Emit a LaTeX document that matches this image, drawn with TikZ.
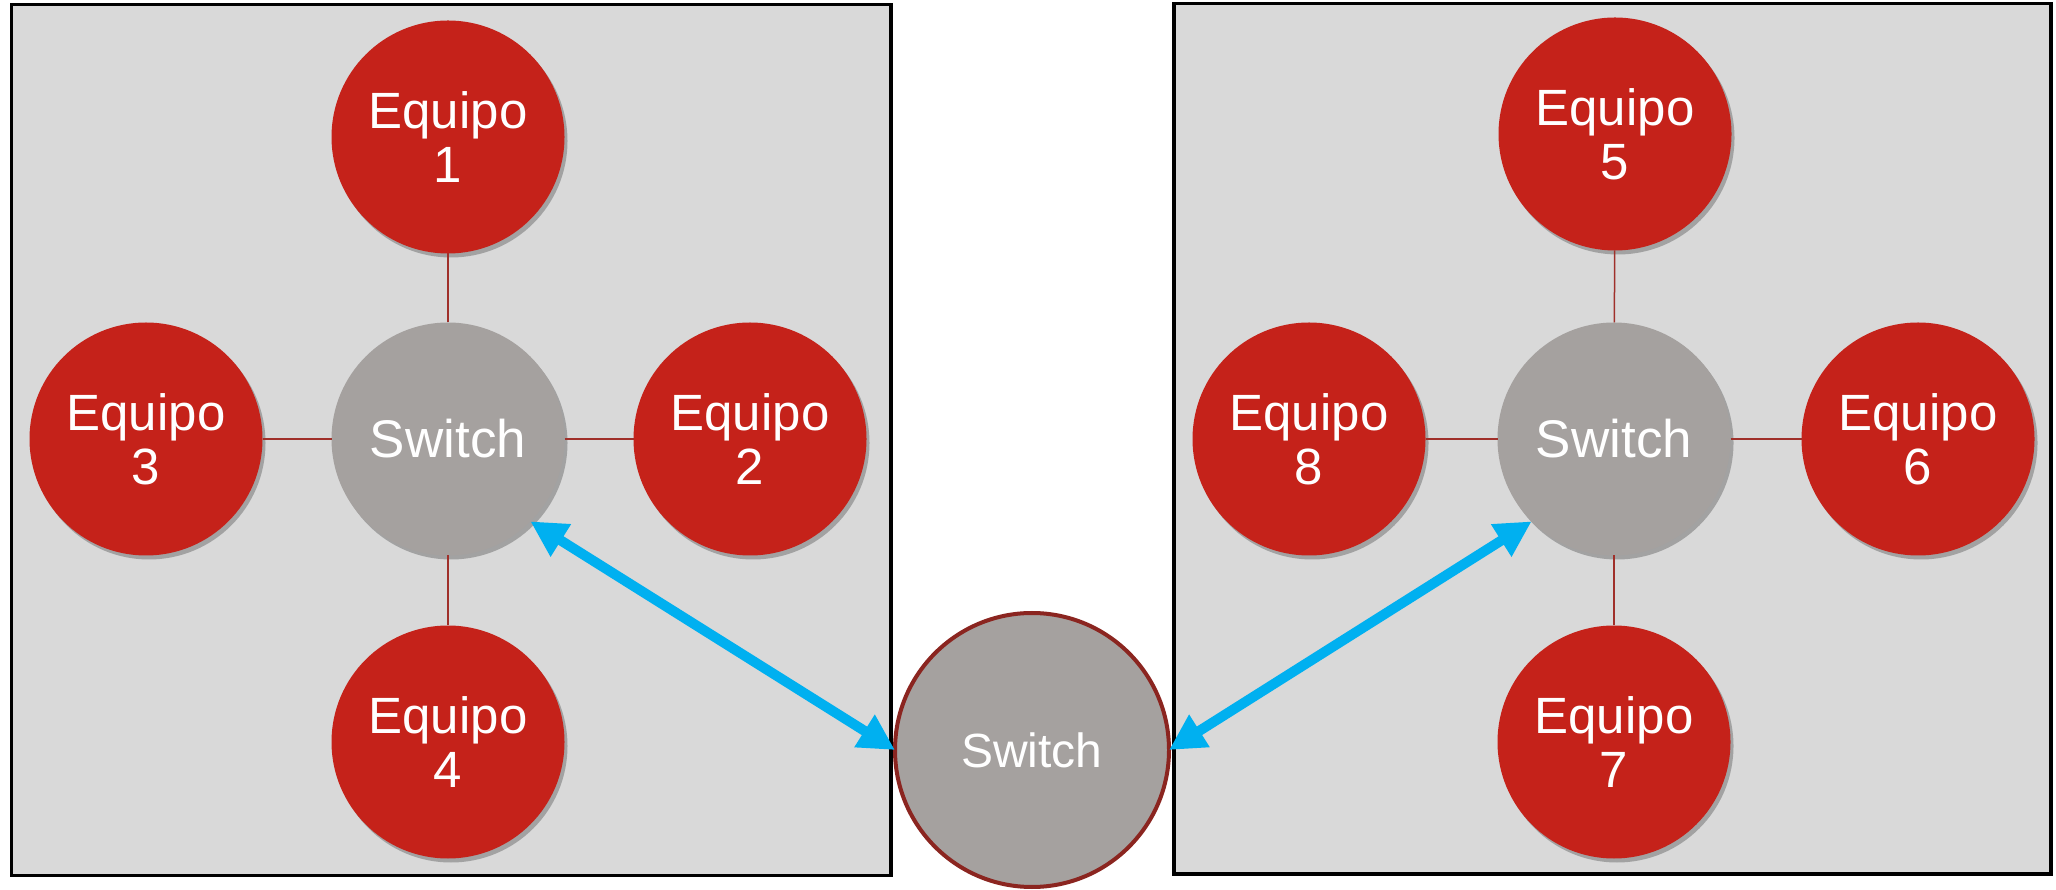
\documentclass[tikz,border=0pt]{standalone}
\usepackage{fontspec}
\setmainfont{Liberation Sans}
\usetikzlibrary{arrows.meta,shadows}
\definecolor{boxgray}{HTML}{D9D9D9}
\definecolor{eqred}{HTML}{C5221A}
\definecolor{swgray}{HTML}{A5A19F}
\definecolor{linkred}{HTML}{A0302A}
\definecolor{midborder}{HTML}{8B2520}
\definecolor{arrowblue}{HTML}{00B0F0}
\begin{document}
\begin{tikzpicture}[x=1pt,y=1pt,
 panel/.style={draw=black, line width=3.5pt, fill=boxgray},
 roundnode/.style={circle, minimum size=233pt, inner sep=0pt, outer sep=0pt, text=white, align=center},
 softshadow/.style={drop shadow={shadow xshift=3pt, shadow yshift=-4pt, opacity=0.25, fill=black}},
 equipo/.style={roundnode, fill=eqred, softshadow, font=\fontsize{51}{54}\selectfont},
 switchnode/.style={roundnode, fill=swgray, softshadow, font=\fontsize{53}{56}\selectfont},
 midswitch/.style={roundnode, fill=swgray, draw=midborder, line width=4pt, minimum size=274pt, font=\fontsize{48}{50}\selectfont},
 link/.style={draw=linkred, line width=1.5pt},
 biarrow/.style={draw=arrowblue, line width=10pt, arrows={Triangle[length=36pt,width=36pt]-Triangle[length=36pt,width=36pt]}}
]
\useasboundingbox (0,0) rectangle (2056,889);
\fill[white] (0,0) rectangle (2056,889);
% panels
\draw[panel] (11.5,884.5) rectangle (891,13.5);
\draw[panel] (1174,885.5) rectangle (2051,15);
% left group
\node[switchnode] (sw1) at (448,450) {Switch};
\node[equipo] (e1) at (448,752) {Equipo\\1};
\node[equipo] (e2) at (750,450) {Equipo\\2};
\node[equipo] (e3) at (146,450) {Equipo\\3};
\node[equipo] (e4) at (448,147) {Equipo\\4};
% right group
\node[switchnode] (sw2) at (1614,450) {Switch};
\node[equipo] (e5) at (1615,755) {Equipo\\5};
\node[equipo] (e6) at (1918,450) {Equipo\\6};
\node[equipo] (e7) at (1614,147) {Equipo\\7};
\node[equipo] (e8) at (1309,450) {Equipo\\8};
% links
\draw[link] (sw1) -- (e1);
\draw[link] (sw1) -- (e2);
\draw[link] (sw1) -- (e3);
\draw[link] (sw1) -- (e4);
\draw[link] (sw2) -- (e5);
\draw[link] (sw2) -- (e6);
\draw[link] (sw2) -- (e7);
\draw[link] (sw2) -- (e8);
% middle switch
\node[midswitch] (mid) at (1032,139) {Switch};
% arrows
\draw[biarrow] (sw1.315) -- (mid.west);
\draw[biarrow] (sw2.225) -- (mid.east);
\end{tikzpicture}
\end{document}
